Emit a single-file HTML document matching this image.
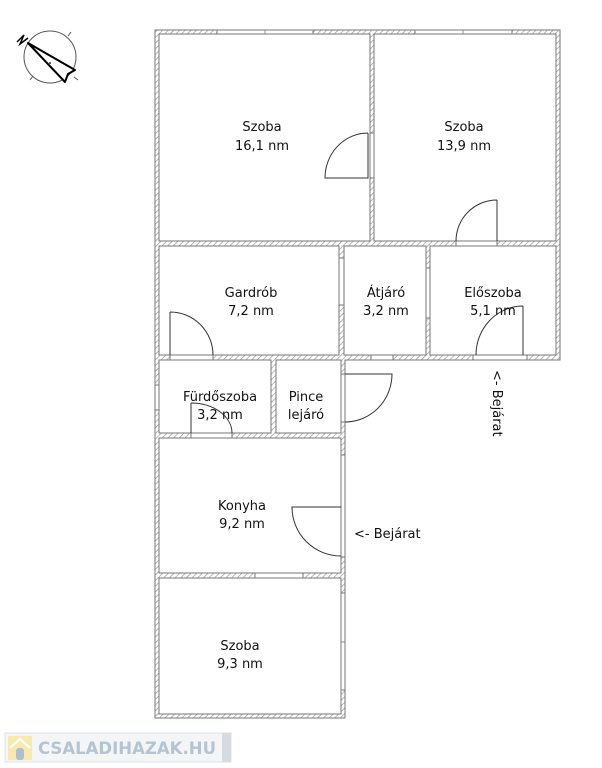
<!DOCTYPE html>
<html><head><meta charset="utf-8"><style>
html,body{margin:0;padding:0;background:#fff;width:602px;height:768px;overflow:hidden}
svg{display:block}
text{font-family:"DejaVu Sans","Liberation Sans",sans-serif;font-size:13px;fill:#111}
</style></head><body>
<svg width="602" height="768" viewBox="0 0 602 768" xmlns="http://www.w3.org/2000/svg">
<defs>
<pattern id="h" width="4" height="4" patternUnits="userSpaceOnUse" patternTransform="rotate(45)">
<rect width="4" height="4" fill="#fff"/><line x1="0" y1="0" x2="0" y2="4" stroke="#999" stroke-width="1.4"/>
</pattern>
</defs>
<polygon points="155,30 560,30 560,360 345,360 345,718 155,718" fill="url(#h)" stroke="#777" stroke-width="1"/>
<g fill="#fff" stroke="#777" stroke-width="1">
<rect x="159" y="34" width="211" height="207"/>
<rect x="374" y="34" width="182" height="207"/>
<rect x="159" y="246" width="180" height="109"/>
<rect x="344" y="246" width="82" height="109"/>
<rect x="430" y="246" width="126" height="109"/>
<rect x="159" y="360" width="112" height="73"/>
<rect x="276" y="360" width="65" height="73"/>
<rect x="159" y="438" width="182" height="135"/>
<rect x="159" y="578" width="182" height="136"/>
</g>
<g fill="#fff" stroke="#777" stroke-width="1">
<rect x="217" y="30" width="96" height="4"/>
<rect x="415" y="30" width="97" height="4"/>
<rect x="370" y="133" width="4" height="45"/>
<rect x="456" y="241" width="41" height="5"/>
<rect x="170" y="355" width="43" height="5"/>
<rect x="371" y="355" width="22" height="5"/>
<rect x="473" y="355" width="54" height="5"/>
<rect x="339" y="258" width="5" height="47"/>
<rect x="426" y="268" width="4" height="50"/>
<rect x="341" y="374" width="4" height="48"/>
<rect x="155" y="385" width="4" height="25"/>
<rect x="191" y="433" width="41" height="5"/>
<rect x="341" y="455" width="4" height="102"/>
<rect x="255" y="573" width="48" height="5"/>
<rect x="341" y="593" width="4" height="97"/>
</g>
<g stroke="#777" stroke-width="0.8">
<line x1="265" y1="30" x2="265" y2="34"/><line x1="463" y1="30" x2="463" y2="34"/>
<line x1="341" y1="642" x2="345" y2="642"/>
</g>
<g fill="none" stroke="#333" stroke-width="1">
<path d="M368,133 L368,178 L325,178 A43,45 0 0 1 368,133"/>
<path d="M497,200 L497,241 M456,241 A41,41 0 0 1 497,200"/>
<path d="M170,312 L170,355 M213,355 A43,43 0 0 0 170,312"/>
<path d="M523,306 L523,355 M476,355 A47,49 0 0 1 523,306"/>
<path d="M191,403 L191,433 M232,433 A41,30 0 0 0 191,403"/>
<path d="M345,374 L392,374 A47,48 0 0 1 345,422"/>
<path d="M341,507 L292,507 A49,49 0 0 0 341,556"/>
</g>
<g fill="none" stroke="#555" stroke-width="1">
<circle cx="50" cy="57" r="26"/>
<line x1="68" y1="36" x2="71" y2="32"/><line x1="33" y1="76" x2="30" y2="80"/>
<line x1="74" y1="77" x2="78" y2="80"/>
</g>
<path d="M28,43 L75,70 L68,74 L65,82 Z" fill="#fff" stroke="#000" stroke-width="2" stroke-linejoin="round"/>
<path d="M17,42 L24,35 L20,44 L28,38" fill="none" stroke="#000" stroke-width="1.5"/>
<circle cx="50" cy="63" r="0.9" fill="#000"/>
<g text-anchor="middle">
<text x="262" y="131">Szoba</text><text x="262" y="150">16,1 nm</text>
<text x="464" y="131">Szoba</text><text x="464" y="150">13,9 nm</text>
<text x="251" y="297">Gardrób</text><text x="251" y="315">7,2 nm</text>
<text x="386" y="297">Átjáró</text><text x="386" y="315">3,2 nm</text>
<text x="493" y="297">Előszoba</text><text x="493" y="315">5,1 nm</text>
<text x="220" y="401">Fürdőszoba</text><text x="220" y="419">3,2 nm</text>
<text x="306" y="401">Pince</text><text x="306" y="419">lejáró</text>
<text x="242" y="510">Konyha</text><text x="242" y="528">9,2 nm</text>
<text x="240" y="650">Szoba</text><text x="240" y="668">9,3 nm</text>
</g>
<text x="354" y="538">&lt;- Bejárat</text>
<text transform="translate(493,370) rotate(90)">&lt;- Bejárat</text>
<rect x="5" y="733" width="226" height="29" fill="#f3f5f7" stroke="#dde2e7" stroke-width="1"/>
<rect x="222" y="733" width="9" height="29" fill="#d5dbe1"/>
<rect x="8" y="736" width="24" height="24" fill="#f7e9b0"/>
<path d="M10,748 L20,739 L30,748" fill="none" stroke="#fff" stroke-width="2"/>
<rect x="16" y="748" width="8" height="12" rx="3" fill="#aebfce"/>
<text x="38" y="754" textLength="178" lengthAdjust="spacingAndGlyphs" style="font-family:'DejaVu Sans',sans-serif;font-weight:bold;font-size:17px;fill:#b4c4d3">CSALADIHAZAK.HU</text>
</svg>
</body></html>
